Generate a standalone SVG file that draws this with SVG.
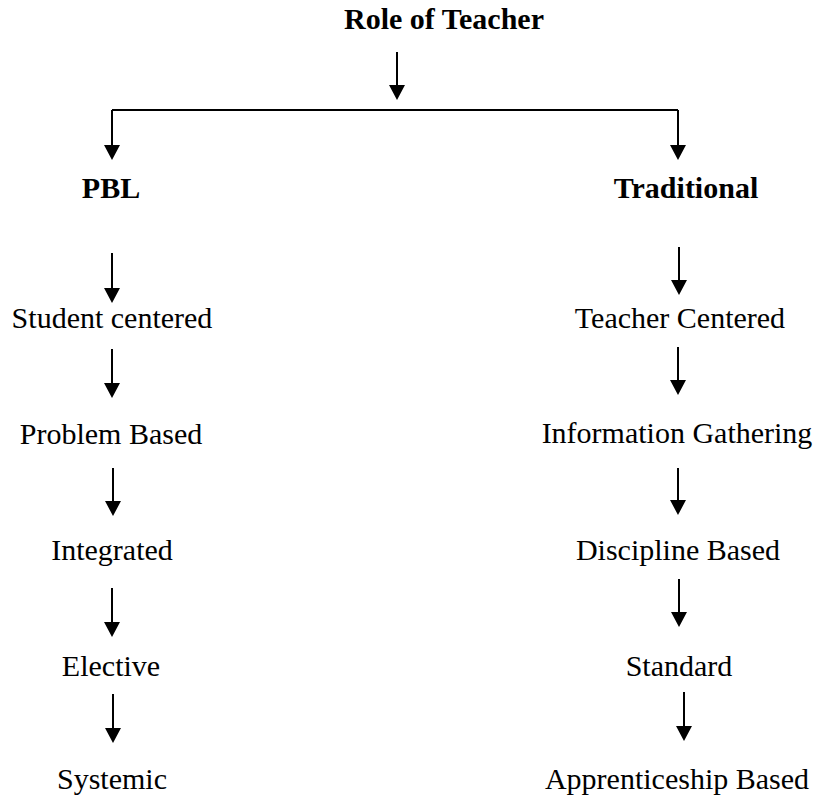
<svg xmlns="http://www.w3.org/2000/svg" width="815" height="803" viewBox="0 0 815 803">
<style>
  text { font-family: "Liberation Serif", "Times New Roman", serif; font-size: 30px; fill: #000; text-anchor: middle; }
  .b { font-weight: bold; }
  .c line, .c path { stroke: #000; stroke-width: 2; fill: none; }
</style>
<defs>
  <marker id="ah" markerUnits="userSpaceOnUse" markerWidth="16" markerHeight="18" viewBox="0 -9 16 18" refX="5" refY="0" orient="auto">
    <path d="M0,-8 L15,0 L0,8 z" fill="#000"/>
  </marker>
</defs>
<rect width="815" height="803" fill="#fff"/>
<g class="c" id="connectors">
  <line x1="397" y1="52" x2="397" y2="90" marker-end="url(#ah)"/>
  <path d="M112,160 M112,110 H678"/>
  <line x1="112" y1="110" x2="112" y2="150" marker-end="url(#ah)"/>
  <line x1="678" y1="110" x2="678" y2="150" marker-end="url(#ah)"/>
  <line x1="112" y1="253" x2="112" y2="293" marker-end="url(#ah)"/>
  <line x1="112" y1="349" x2="112" y2="388" marker-end="url(#ah)"/>
  <line x1="113" y1="468" x2="113" y2="506" marker-end="url(#ah)"/>
  <line x1="112" y1="588" x2="112" y2="627" marker-end="url(#ah)"/>
  <line x1="113" y1="694" x2="113" y2="733" marker-end="url(#ah)"/>
  <line x1="679" y1="247" x2="679" y2="285" marker-end="url(#ah)"/>
  <line x1="678" y1="347" x2="678" y2="385" marker-end="url(#ah)"/>
  <line x1="678" y1="468" x2="678" y2="505" marker-end="url(#ah)"/>
  <line x1="679" y1="579" x2="679" y2="617" marker-end="url(#ah)"/>
  <line x1="684" y1="692" x2="684" y2="731" marker-end="url(#ah)"/>
</g>
<g id="title"><text class="b" x="444" y="29">Role of Teacher</text></g>
<g id="pbl"><text class="b" x="111" y="198">PBL</text></g>
<g id="traditional"><text class="b" x="686" y="198">Traditional</text></g>
<g id="student-centered"><text x="112" y="328">Student centered</text></g>
<g id="problem-based"><text x="111" y="444">Problem Based</text></g>
<g id="integrated"><text x="112" y="560">Integrated</text></g>
<g id="elective"><text x="111" y="676">Elective</text></g>
<g id="systemic"><text x="112" y="789">Systemic</text></g>
<g id="teacher-centered"><text x="680" y="328">Teacher Centered</text></g>
<g id="information-gathering"><text x="677" y="443">Information Gathering</text></g>
<g id="discipline-based"><text x="678" y="560">Discipline Based</text></g>
<g id="standard"><text x="679" y="676">Standard</text></g>
<g id="apprenticeship-based"><text x="677" y="789">Apprenticeship Based</text></g>
</svg>
